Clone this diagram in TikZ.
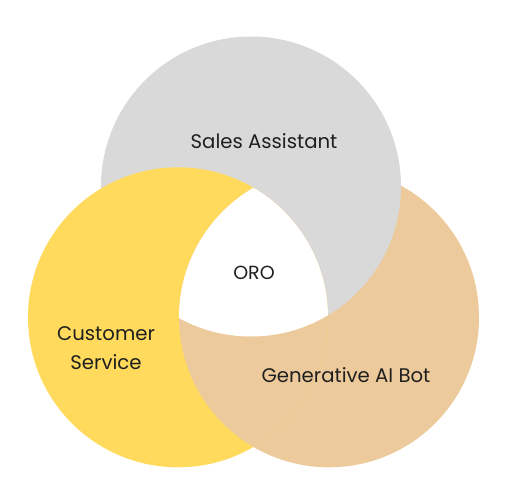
\documentclass[tikz,border=0pt]{standalone}
\usepackage{fontspec}
\setmainfont{Poppins}
\definecolor{cgray}{HTML}{D9D9D9}
\definecolor{cyellow}{HTML}{FFDA5C}
\definecolor{ctan}{HTML}{EDCA9B}
\tikzset{lbl/.style={font=\fontsize{19.7}{29}\selectfont, text=black!88, align=center, inner sep=0pt}}
\begin{document}
\begin{tikzpicture}[x=1pt,y=-1pt]
\useasboundingbox (0,0) rectangle (506,493);
\def\gc{(251,186.5) circle[radius=150]}
\def\yc{(178,317.3) circle[radius=150]}
\def\tc{(329,317.3) circle[radius=150]}
\fill[ctan] \tc;
\fill[cgray] \gc;
\fill[cyellow] \yc;
\begin{scope}
\clip \yc; \clip \tc;
\fill[ctan] \tc;
\clip \gc;
\fill[white] \gc;
\end{scope}
\node[lbl] (sa) at (264,141) {Sales Assistant};
\node[lbl] (cs) at (106,348.5) {Customer\\Service};
\node[lbl] (gb) at (346,375) {Generative AI Bot};
\node[lbl, font=\fontsize{19}{22}\selectfont] (oro) at (254,273) {ORO};
\end{tikzpicture}
\end{document}
